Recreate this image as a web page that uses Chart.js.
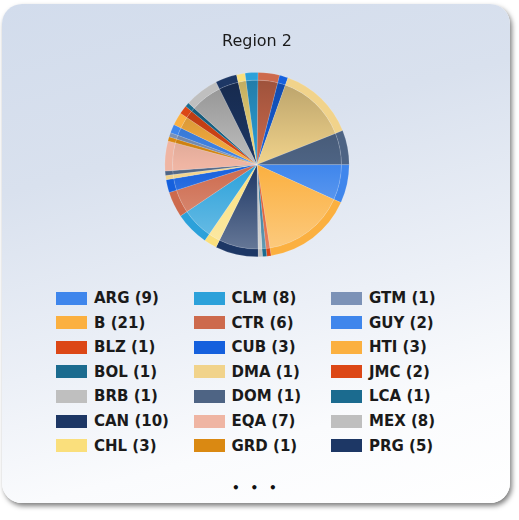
<!DOCTYPE html>
<html>
<head>
<meta charset="utf-8">
<script src="https://cdn.jsdelivr.net/npm/chart.js@4.4.1/dist/chart.umd.min.js"></script>
<style>
  html, body { margin: 0; padding: 0; background: #fff; }
  body { width: 519px; height: 520px; position: relative; overflow: hidden; }
  .card {
    position: absolute; left: 2px; top: 4px; width: 508px; height: 499px;
    border-radius: 20px;
    background: linear-gradient(165deg, #d2dcec 0%, #d9e1ee 30%, #ecf0f7 60%, #fafbfd 80%, #fff 100%);
    box-shadow: 2px 3px 5px rgba(0, 0, 0, 0.5);
  }
  #chartBox { position: absolute; left: 0; top: 0; width: 508px; height: 253px; }
  #legend {
    position: absolute; left: 54px; top: 282px;
    display: grid; grid-auto-flow: column;
    grid-template-rows: repeat(7, 24.55px);
    grid-template-columns: repeat(3, 137.5px);
  }
  .item { display: flex; align-items: center; font: bold 15px "DejaVu Sans"; color: #1a1a1a; white-space: nowrap; }
  .sw { width: 31px; height: 13px; margin-right: 7px; flex: none; }
  .more {
    position: absolute; left: 0; width: 508px; top: 477px; text-align: center;
    font: bold 12px "DejaVu Sans"; letter-spacing: 3.3px; color: #111;
  }
</style>
</head>
<body>
<div class="card">
  <div id="chartBox"><canvas id="regionPie"></canvas></div>
  <div id="legend"></div>
  <div class="more">• • •</div>
</div>
<script>
/* DATA */
const countries = ['ARG', 'B', 'BLZ', 'BOL', 'BRB', 'CAN', 'CHL', 'CLM', 'CTR', 'CUB', 'DMA', 'DOM', 'EQA', 'GRD',
  'GTM', 'GUY', 'HTI', 'JMC', 'LCA', 'MEX', 'PRG', 'PUR', 'SLV', 'TTO', 'URU', 'USA', 'VEN'];
const counts = [9, 21, 1, 1, 1, 10, 3, 8, 6, 3, 1, 1, 7, 1,
  1, 2, 3, 2, 1, 8, 5, 2, 3, 5, 2, 18, 8];
const palette = ['#3f86ec', '#fbb040', '#dc4716', '#1b6b8f', '#bfbfbf', '#1d3765', '#fadf7c', '#2ca1da',
  '#cd6a4d', '#1560dd', '#f1d38b', '#4e6484', '#efb5a3', '#da8912', '#7c92b7'];
const legendShown = 21;

/* COLOR HELPERS */
function mix(hex, target, amt) {
  const n = parseInt(hex.slice(1), 16);
  const r = (n >> 16) & 255, g = (n >> 8) & 255, b = n & 255;
  const m = c => Math.round(c + (target - c) * amt);
  return 'rgb(' + m(r) + ',' + m(g) + ',' + m(b) + ')';
}

const baseColors = countries.map((c, i) => palette[i % palette.length]);

function innerFill(context) {
  const chart = context.chart;
  const area = chart.chartArea;
  const base = baseColors[context.dataIndex];
  if (!area) return base;
  const g = chart.ctx.createLinearGradient(0, area.top, 0, area.bottom);
  g.addColorStop(0, mix(base, 0, 0.25));
  g.addColorStop(0.5, base);
  g.addColorStop(1, mix(base, 255, 0.35));
  return g;
}

const canvas = document.getElementById('regionPie');
const pieCtx = canvas.getContext('2d');

const pieChart = new Chart(pieCtx, {
  type: 'pie',
  data: {
    labels: countries,
    datasets: [{
      data: counts,
      backgroundColor: baseColors,
      borderColor: 'rgba(255,255,255,0.25)',
      borderWidth: 0.5,
      weight: 1
    }, {
      data: counts,
      backgroundColor: innerFill,
      borderColor: 'rgba(255,255,255,0.25)',
      borderWidth: 0.5,
      weight: 11
    }]
  },
  options: {
    responsive: true,
    maintainAspectRatio: false,
    animation: false,
    rotation: 90,
    layout: { padding: { left: 2 } },
    plugins: {
      legend: { display: false },
      tooltip: { enabled: false },
      title: {
        display: true,
        text: 'Region 2',
        color: '#1a1a1a',
        font: { family: 'DejaVu Sans', size: 16, weight: 'normal', lineHeight: 1.2 },
        padding: { top: 28, bottom: 21 }
      }
    }
  }
});

/* HTML legend, column-major like the original */
const legendBox = document.getElementById('legend');
const items = pieChart.options.plugins.legend.labels.generateLabels(pieChart).slice(0, legendShown);
items.forEach(item => {
  const row = document.createElement('div');
  row.className = 'item';
  const sw = document.createElement('span');
  sw.className = 'sw';
  sw.style.background = item.fillStyle;
  row.appendChild(sw);
  row.appendChild(document.createTextNode(item.text + ' (' + counts[item.index] + ')'));
  legendBox.appendChild(row);
});
</script>
</body>
</html>
